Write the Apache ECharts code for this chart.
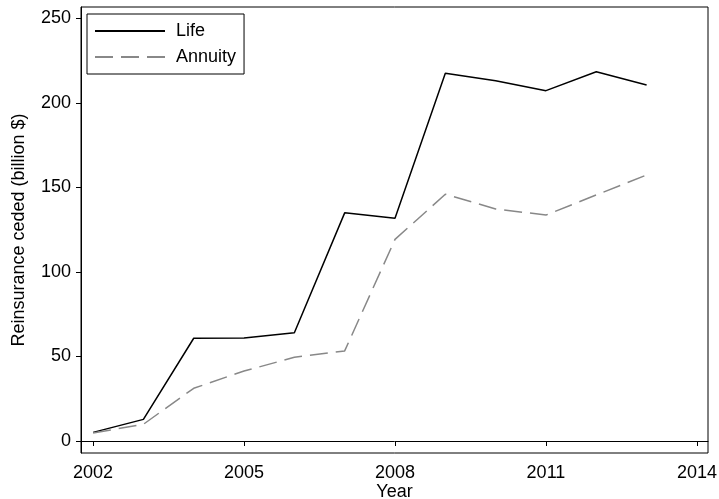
<!DOCTYPE html>
<html>
<head>
<meta charset="utf-8">
<script src="https://cdn.jsdelivr.net/npm/echarts@6/dist/echarts.min.js"></script>
<style>html,body{margin:0;padding:0;background:#fff}#c{width:719px;height:499px}</style>
</head>
<body>
<div id="c"></div>
<script>
const years = [2002, 2003, 2004, 2005, 2006, 2007, 2008, 2009, 2010, 2011, 2012, 2013];
const life = [5.1, 12.8, 60.8, 61.0, 64.1, 135.0, 131.8, 217.6, 213.2, 207.3, 218.5, 210.7];
const annuity = [4.7, 9.9, 31.2, 41.4, 49.5, 53.3, 119.3, 146.0, 137.3, 133.7, 145.6, 157.4];
const xTicks = [2002, 2005, 2008, 2011, 2014];
const yTicks = [0, 50, 100, 150, 200, 250];

const font = 'Liberation Sans, Arial, sans-serif';
const fs = 18;
const chart = echarts.init(document.getElementById('c'), null, {renderer: 'canvas'});
chart.setOption({
  animation: false,
  backgroundColor: '#fff',
  grid: {left: 81, right: 11, top: 7, bottom: 46, show: true, borderColor: '#000', borderWidth: 1,
         containLabel: false, outerBoundsMode: 'none'},
  legend: {
    orient: 'vertical', left: 87, top: 14,
    itemWidth: 70, itemHeight: 14, itemGap: 8,
    padding: [8, 8, 8, 7],
    borderColor: '#000', borderWidth: 1,
    itemStyle: {opacity: 0},
    textStyle: {fontFamily: font, fontSize: fs, color: '#000', padding: [0, 0, 0, 6]},
    data: ['Life', 'Annuity']
  },
  xAxis: {
    type: 'value', min: 2001.76, max: 2014.22,
    name: 'Year', nameLocation: 'middle', nameGap: 30, nameMoveOverlap: false,
    nameTextStyle: {fontFamily: font, fontSize: fs, color: '#000'},
    axisLine: {show: true, lineStyle: {color: '#000', width: 1}},
    axisTick: {show: true, customValues: xTicks, length: 5, lineStyle: {color: '#000'}},
    axisLabel: {customValues: xTicks, fontFamily: font, fontSize: fs, color: '#000', margin: 11, formatter: v => String(v)},
    splitLine: {show: false}
  },
  yAxis: {
    type: 'value', min: -7.1, max: 256.8,
    name: 'Reinsurance ceded (billion $)', nameLocation: 'middle', nameGap: 53, nameRotate: 90, nameMoveOverlap: false,
    nameTextStyle: {fontFamily: font, fontSize: fs, color: '#000'},
    axisLine: {show: true, lineStyle: {color: '#000', width: 1}},
    axisTick: {show: true, customValues: yTicks, length: 5, lineStyle: {color: '#000'}},
    axisLabel: {customValues: yTicks, fontFamily: font, fontSize: fs, color: '#000', margin: 10},
    splitLine: {show: false}
  },
  series: [
    {name: 'Life', type: 'line', symbol: 'none', data: years.map((y, i) => [y, life[i]]),
     lineStyle: {color: '#000', width: 1.5}, itemStyle: {color: '#000'}},
    {name: 'Annuity', type: 'line', symbol: 'none', data: years.map((y, i) => [y, annuity[i]]),
     lineStyle: {color: '#888', width: 1.5, type: [18, 8]}, itemStyle: {color: '#888'}}
  ]
});
</script>
</body>
</html>
